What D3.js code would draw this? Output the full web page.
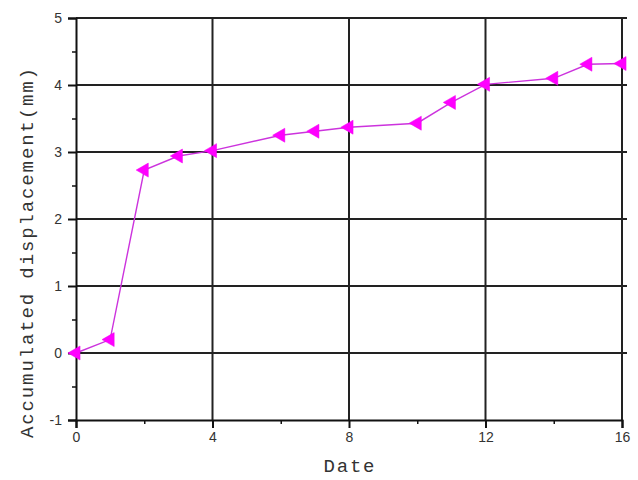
<!DOCTYPE html>
<html>
<head>
<meta charset="utf-8">
<script src="https://cdn.jsdelivr.net/npm/d3@7"></script>
<style>
  body { margin: 0; background: #fff; }
  .tick text { font-family: Arial, "Liberation Sans", sans-serif; font-size: 14px; fill: #333; }
  .label { font-family: "Liberation Mono", "DejaVu Sans Mono", monospace; font-size: 19px; fill: #333; }
</style>
</head>
<body>
<svg width="638" height="480"></svg>
<script>
var days = [0, 1, 2, 3, 4, 6, 7, 8, 10, 11, 12, 14, 15, 16];
var displacement = [0, 0.2, 2.73, 2.94, 3.02, 3.25, 3.31, 3.37, 3.43, 3.74, 4.01, 4.10, 4.31, 4.32];
var xTicks = [0, 4, 8, 12, 16];
var xMinor = [2, 6, 10, 14];
var yTicks = [-1, 0, 1, 2, 3, 4, 5];
var yMinor = [-0.5, 0.5, 1.5, 2.5, 3.5, 4.5];

var svg = d3.select("svg");
var margin = {top: 18, right: 16, bottom: 60, left: 76};
var width = +svg.attr("width") - margin.left - margin.right,
    height = +svg.attr("height") - margin.top - margin.bottom;

var x = d3.scaleLinear().domain([0, 16]).range([0, width]);
var y = d3.scaleLinear().domain([-1, 5]).range([height, 0]);

var g = svg.append("g").attr("transform", "translate(" + margin.left + "," + margin.top + ")");

// grid lines
g.append("g").selectAll("line").data(yTicks.filter(d => d > -1))
  .enter().append("line")
    .attr("x1", 0).attr("x2", width + 5)
    .attr("y1", d => y(d)).attr("y2", d => y(d))
    .attr("stroke", "#222").attr("stroke-width", 2);

g.append("g").selectAll("line").data(xTicks.filter(d => d > 0))
  .enter().append("line")
    .attr("x1", d => x(d)).attr("x2", d => x(d))
    .attr("y1", 0).attr("y2", height)
    .attr("stroke", "#222").attr("stroke-width", 2);

// axes
var plain = d => String(d);
var xAxis = g.append("g").attr("transform", "translate(0," + height + ")")
  .call(d3.axisBottom(x).tickValues(xTicks).tickSize(8).tickPadding(4).tickFormat(plain));
var yAxis = g.append("g")
  .call(d3.axisLeft(y).tickValues(yTicks).tickSize(8).tickPadding(6).tickFormat(plain));

[xAxis, yAxis].forEach(a => {
  a.select(".domain").attr("stroke", "#111").attr("stroke-width", 2);
  a.selectAll(".tick line").attr("stroke", "#111").attr("stroke-width", 2);
});

g.append("g").attr("transform", "translate(0," + height + ")")
  .call(d3.axisBottom(x).tickValues(xMinor).tickSize(4).tickFormat(""))
  .call(s => s.select(".domain").remove())
  .selectAll(".tick line").attr("stroke", "#111").attr("stroke-width", 1.5);

g.append("g")
  .call(d3.axisLeft(y).tickValues(yMinor).tickSize(4).tickFormat(""))
  .call(s => s.select(".domain").remove())
  .selectAll(".tick line").attr("stroke", "#111").attr("stroke-width", 1.5);

// series
var points = days.map((d, i) => ({day: d, value: displacement[i]}));

var line = d3.line()
    .x(d => x(d.day))
    .y(d => y(d.value));

g.append("path")
    .datum(points)
    .attr("fill", "none")
    .attr("stroke", "#cc33dd")
    .attr("stroke-width", 1.4)
    .attr("d", line);

var tri = d3.symbol().type(d3.symbolTriangle).size(85);

g.append("g").selectAll("path").data(points)
  .enter().append("path")
    .attr("d", tri)
    .attr("transform", d => "translate(" + x(d.day) + "," + y(d.value) + ") rotate(-90)")
    .attr("fill", "#ff00ff")
    .attr("stroke", "#ee00ee")
    .attr("stroke-width", 0.5);

// axis titles
svg.append("text")
    .attr("class", "label")
    .attr("x", margin.left + x(8))
    .attr("y", 472)
    .attr("text-anchor", "middle")
    .attr("textLength", 51)
    .attr("lengthAdjust", "spacing")
    .text("Date");

svg.append("text")
    .attr("class", "label")
    .attr("transform", "translate(33,253) rotate(-90)")
    .attr("text-anchor", "middle")
    .attr("textLength", 370)
    .attr("lengthAdjust", "spacing")
    .text("Accumulated displacement(mm)");
</script>
</body>
</html>
